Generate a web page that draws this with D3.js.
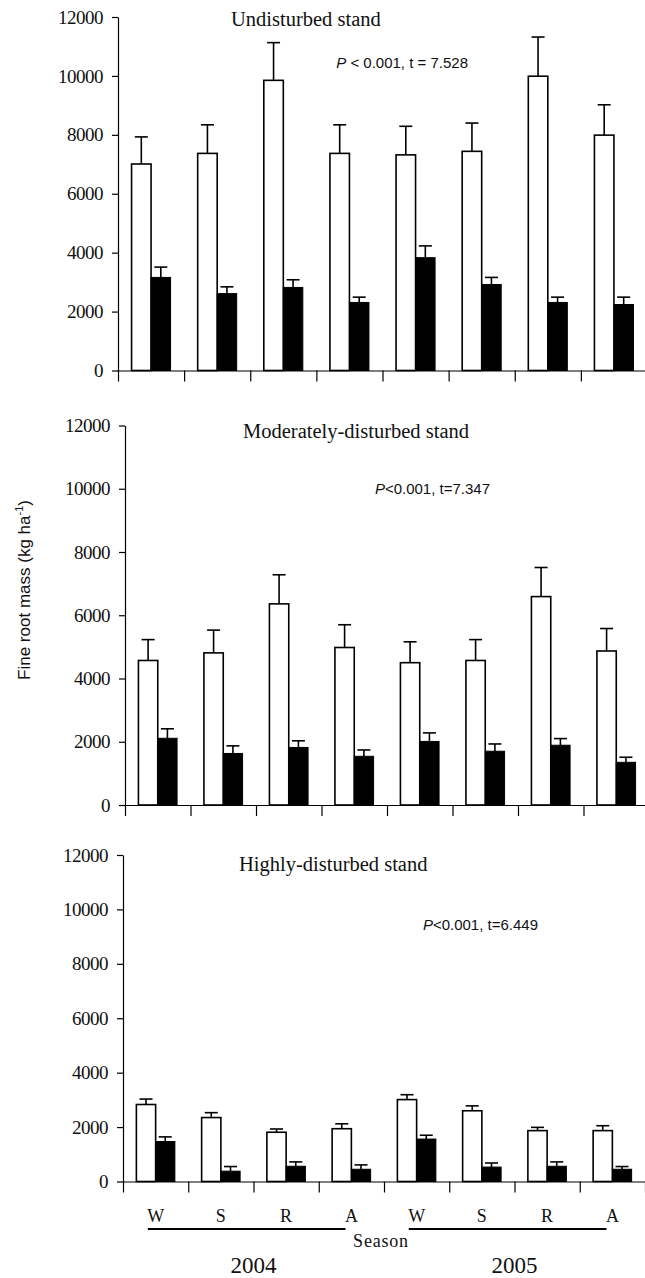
<!DOCTYPE html>
<html>
<head>
<meta charset="utf-8">
<script src="https://cdn.jsdelivr.net/npm/d3@7"></script>
<style>
  body { margin: 0; background: #fff; }
  svg { display: block; }
</style>
</head>
<body>
<div id="chart"></div>
<script>
// ---- data ----
var seasons = ["W", "S", "R", "A", "W", "S", "R", "A"];
var years = ["2004", "2005"];
var yTicks = [0, 2000, 4000, 6000, 8000, 10000, 12000];

// undisturbed stand
var undWhite = [7010, 7370, 9850, 7370, 7320, 7440, 9990, 7990];
var undWhiteSE = [920, 970, 1280, 970, 970, 960, 1330, 1030];
var undBlack = [3160, 2610, 2820, 2310, 3830, 2920, 2310, 2240];
var undBlackSE = [350, 230, 260, 180, 400, 240, 180, 250];

// moderately-disturbed stand
var modWhite = [4570, 4810, 6360, 4980, 4500, 4570, 6590, 4870];
var modWhiteSE = [660, 720, 920, 720, 660, 660, 920, 710];
var modBlack = [2110, 1630, 1820, 1540, 2010, 1700, 1890, 1350];
var modBlackSE = [300, 240, 210, 200, 270, 230, 210, 160];

// highly-disturbed stand
var higWhite = [2830, 2350, 1810, 1940, 3010, 2600, 1870, 1870];
var higWhiteSE = [200, 180, 120, 180, 180, 180, 120, 180];
var higBlack = [1470, 380, 560, 450, 1560, 530, 560, 450];
var higBlackSE = [170, 170, 160, 160, 140, 150, 160, 100];

var panelTitles = ["Undisturbed stand", "Moderately-disturbed stand", "Highly-disturbed stand"];
var statTexts = [["P", " < 0.001, t = 7.528"], ["P", "<0.001, t=7.347"], ["P", "<0.001, t=6.449"]];

var serif = "Liberation Serif, Times New Roman, serif";
var sans = "Liberation Sans, Arial, sans-serif";

// ---- layout ----
var W = 645, H = 1278;
var svg = d3.select("#chart").append("svg").attr("width", W).attr("height", H);

var panels = [
  {white: undWhite, whiteSE: undWhiteSE, black: undBlack, blackSE: undBlackSE,
   x0: 118, x1: 647, top: 17, base: 370.5, titleX: 231, titleY: 26, statX: 468, statY: 68},
  {white: modWhite, whiteSE: modWhiteSE, black: modBlack, blackSE: modBlackSE,
   x0: 125, x1: 649, top: 425.5, base: 805, titleX: 243, titleY: 438, statX: 490, statY: 494},
  {white: higWhite, whiteSE: higWhiteSE, black: higBlack, blackSE: higBlackSE,
   x0: 123, x1: 645, top: 855, base: 1181.5, titleX: 239, titleY: 871, statX: 538, statY: 930}
];

var lastX;

panels.forEach(function(p, k) {
  var g = svg.append("g");
  var x = d3.scaleBand().domain(d3.range(seasons.length)).range([p.x0, p.x1]);
  var y = d3.scaleLinear().domain([0, 12000]).range([p.base, p.top]);
  var bw = x.bandwidth();
  var barW = bw * 0.295;
  var capW = 13;

  // y axis
  var yAxis = g.append("g").attr("transform", "translate(" + p.x0 + ",0)")
    .call(d3.axisLeft(y).tickValues(yTicks).tickFormat(d3.format("d")).tickSize(6).tickSizeOuter(0).tickPadding(9));
  yAxis.attr("font-family", serif).attr("font-size", 19);
  yAxis.selectAll("path, line").attr("stroke", "#000").attr("stroke-width", 1.2);
  yAxis.selectAll("text").attr("letter-spacing", "-0.5px").attr("fill", "#111");

  // x axis with ticks at band boundaries
  var bounds = d3.range(seasons.length + 1).map(function(i) { return p.x0 + i * bw; });
  var xl = d3.scaleLinear().domain([p.x0, p.x1]).range([p.x0, p.x1]);
  var xAxis = g.append("g").attr("transform", "translate(0," + p.base + ")")
    .call(d3.axisBottom(xl).tickValues(bounds).tickFormat("").tickSize(11).tickSizeOuter(0));
  xAxis.selectAll("path, line").attr("stroke", "#000").attr("stroke-width", 1.2);

  var idx = d3.range(seasons.length);

  // open bars
  g.selectAll(".wbar").data(idx).enter().append("rect")
    .attr("x", function(i) { return x(i) + bw / 2 - barW; })
    .attr("y", function(i) { return y(p.white[i]); })
    .attr("width", barW)
    .attr("height", function(i) { return y(0) - y(p.white[i]); })
    .attr("fill", "#fff").attr("stroke", "#000").attr("stroke-width", 1.6);

  // filled bars
  g.selectAll(".bbar").data(idx).enter().append("rect")
    .attr("x", function(i) { return x(i) + bw / 2; })
    .attr("y", function(i) { return y(p.black[i]); })
    .attr("width", barW)
    .attr("height", function(i) { return y(0) - y(p.black[i]); })
    .attr("fill", "#000").attr("stroke", "#000").attr("stroke-width", 1);

  // error bars (upper only)
  function errBars(vals, se, off) {
    var eg = g.append("g").attr("stroke", "#000").attr("stroke-width", 1.6);
    eg.selectAll("line.v").data(idx).enter().append("line")
      .attr("x1", function(i) { return x(i) + bw / 2 + off; })
      .attr("x2", function(i) { return x(i) + bw / 2 + off; })
      .attr("y1", function(i) { return y(vals[i]); })
      .attr("y2", function(i) { return y(vals[i] + se[i]); });
    eg.selectAll("line.c").data(idx).enter().append("line")
      .attr("x1", function(i) { return x(i) + bw / 2 + off - capW / 2; })
      .attr("x2", function(i) { return x(i) + bw / 2 + off + capW / 2; })
      .attr("y1", function(i) { return y(vals[i] + se[i]); })
      .attr("y2", function(i) { return y(vals[i] + se[i]); });
  }
  errBars(p.white, p.whiteSE, -barW / 2);
  errBars(p.black, p.blackSE, barW / 2);

  // panel title
  g.append("text").attr("x", p.titleX).attr("y", p.titleY)
    .attr("font-family", serif)
    .attr("font-size", "20.5px").attr("fill", "#111")
    .text(panelTitles[k]);

  // statistic
  var st = g.append("text").attr("x", p.statX).attr("y", p.statY)
    .attr("text-anchor", "end")
    .attr("font-family", sans)
    .attr("font-size", "15px").attr("fill", "#111");
  st.append("tspan").attr("font-style", "italic").text(statTexts[k][0]);
  st.append("tspan").text(statTexts[k][1]);

  lastX = {x: x, bw: bw, base: p.base};
});

// ---- season labels, year lines, years (bottom panel) ----
var bx = lastX.x, bbw = lastX.bw;
svg.append("g").selectAll("text").data(seasons).enter().append("text")
  .attr("x", function(d, i) { return bx(i) + bbw / 2; })
  .attr("y", 1222)
  .attr("text-anchor", "middle")
  .attr("font-family", serif)
  .attr("font-size", "18px").attr("fill", "#111")
  .text(function(d) { return d; });

years.forEach(function(yr, j) {
  var i0 = j * 4, i3 = j * 4 + 3;
  var xa = bx(i0) + bbw * 0.38, xb = bx(i3) + bbw * 0.41;
  svg.append("line").attr("x1", xa).attr("x2", xb).attr("y1", 1229).attr("y2", 1229)
    .attr("stroke", "#000").attr("stroke-width", 1.8);
  svg.append("text")
    .attr("x", (bx(i0) + bx(i3) + bbw) / 2)
    .attr("y", 1273)
    .attr("text-anchor", "middle")
    .attr("font-family", serif)
    .attr("font-size", "23px").attr("fill", "#111")
    .text(yr);
});

svg.append("text").attr("x", 381).attr("y", 1247)
  .attr("text-anchor", "middle")
  .attr("font-family", serif)
  .attr("font-size", "18px").attr("letter-spacing", "0.8px").attr("fill", "#111")
  .text("Season");

// ---- y axis label ----
var yl = svg.append("text")
  .attr("transform", "translate(30,590) rotate(-90)")
  .attr("text-anchor", "middle")
  .attr("font-family", sans)
  .attr("font-size", "17px").attr("fill", "#111");
yl.append("tspan").text("Fine root mass (kg ha");
yl.append("tspan").attr("font-size", "11px").attr("dy", "-7").text("-1");
yl.append("tspan").attr("dy", "7").text(")");
</script>
</body>
</html>
